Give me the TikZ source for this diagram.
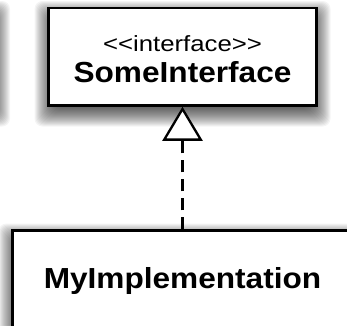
\documentclass[tikz,border=0pt]{standalone}
\usepackage{fontspec}
\setmainfont{Liberation Sans}
\usetikzlibrary{arrows.meta}
\tikzset{
  shadowlayer/.style={fill=black, fill opacity=0.042, rounded corners=8pt},
  umlbox/.style={draw=black, line width=2.5pt, fill=white, inner sep=0pt},
  stereo/.style={anchor=base, inner sep=0pt, font=\fontsize{22}{22}\selectfont},
  classname/.style={anchor=base, inner sep=0pt, font=\fontsize{29}{29}\selectfont\bfseries},
  realize/.style={line width=2.5pt, dash pattern=on 12pt off 7pt,
    -{Triangle[open, length=34pt, width=40pt, fill=white, line width=2.3pt]}}
}
% soft drop shadow: left, top, right, bottom (shifted 7 down)
\newcommand\mydropshadow[4]{%
  \foreach \e in {14,13,...,-8}{%
    \path[shadowlayer] ({#1-\e},{#2+7-\e}) rectangle ({#3+\e},{#4+7+\e});
  }%
}
\begin{document}
\begin{tikzpicture}[x=1pt,y=-1pt]
\useasboundingbox (0,0) rectangle (347,325);
\clip (0,0) rectangle (347,325);
\fill[white] (0,0) rectangle (347,325);
% shadow of a box lying outside the picture on the left
\mydropshadow{-120}{8}{-4}{105.5}
\mydropshadow{48.5}{8}{316.5}{105.5}
\mydropshadow{12.5}{230.5}{352.5}{340.5}
\node[umlbox, minimum width=268pt, minimum height=97.5pt] (iface) at (182.5,56.75) {};
\node[stereo] (ifacest) at (182.5,51) {\scalebox{1.17}[1]{\textless\kern0pt\textless interface\textgreater\kern0pt\textgreater}};
\node[classname] (ifacename) at (182.5,82) {\scalebox{1.09}[1]{SomeInterface}};
\node[umlbox, minimum width=340pt, minimum height=110pt] (impl) at (182.5,285.5) {};
\node[classname] (implname) at (182.5,288) {\scalebox{1.09}[1]{MyImplementation}};
\draw[realize] (impl.north) -- (iface.south);
\end{tikzpicture}
\end{document}
